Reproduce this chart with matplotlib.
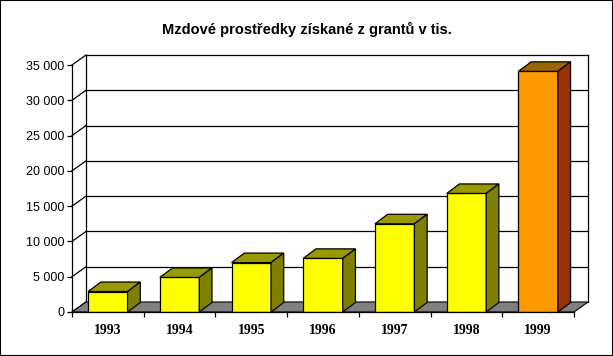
import matplotlib
matplotlib.use("Agg")
import matplotlib.pyplot as plt
from matplotlib.patches import Polygon, Rectangle
from matplotlib.ticker import FuncFormatter

years = ["1993", "1994", "1995", "1996", "1997", "1998", "1999"]
values = [2900, 4900, 7000, 7600, 12500, 16800, 34100]
front_colors = ["#FFFF00"] * 6 + ["#FF9900"]
top_colors = ["#999900"] * 6 + ["#996600"]
side_colors = ["#808000"] * 6 + ["#993300"]

title = "Mzdové prostředky získané z grantů v tis."
ymax = 35000
ystep = 5000

W, H = 613, 356
fig = plt.figure(figsize=(W / 100, H / 100), dpi=100)
# front plane: x 72..574 px, y 312..65 px
ax = fig.add_axes([72 / W, (H - 312) / H, (574 - 72) / W, (312 - 65) / H])
n = len(years)
ax.set_xlim(0, n)
ax.set_ylim(0, ymax)

px_x = n / (574 - 72)
px_y = ymax / (312 - 65)
wdx, wdy = 14 * px_x, 10 * px_y      # wall depth
bdx, bdy = 12.7 * px_x, 9.5 * px_y   # bar depth
bw = 0.55

# floor
ax.add_patch(Polygon([(0, 0), (n, 0), (n + wdx, wdy), (wdx, wdy)],
                     closed=True, facecolor="#808080", edgecolor="black",
                     lw=0.8, zorder=1, clip_on=False))

# back wall + side wall lines
for v in range(0, ymax + 1, ystep):
    ax.plot([0, wdx], [v, v + wdy], color="black", lw=0.9, zorder=0.5, clip_on=False)
    if v > 0:
        ax.plot([wdx, n + wdx], [v + wdy, v + wdy], color="black", lw=0.9,
                zorder=0.5, clip_on=False)
ax.plot([wdx, wdx], [wdy, ymax + wdy], color="black", lw=0.9, zorder=0.5, clip_on=False)
ax.plot([n + wdx, n + wdx], [wdy, ymax + wdy], color="black", lw=0.9, zorder=0.5, clip_on=False)

# bars
xs = [i + 0.5 for i in range(n)]
ax.bar(xs, values, width=bw, color=front_colors, edgecolor="black", lw=0.9, zorder=3)
for x, v, tc, sc in zip(xs, values, top_colors, side_colors):
    l, r = x - bw / 2, x + bw / 2
    ax.add_patch(Polygon([(l, v), (r, v), (r + bdx, v + bdy), (l + bdx, v + bdy)],
                         closed=True, facecolor=tc, edgecolor="black", lw=0.9,
                         zorder=3, clip_on=False))
    ax.add_patch(Polygon([(r, 0), (r + bdx, bdy), (r + bdx, v + bdy), (r, v)],
                         closed=True, facecolor=sc, edgecolor="black", lw=0.9,
                         zorder=3, clip_on=False))

# axes
ax.set_facecolor("none")
ax.spines["top"].set_visible(False)
ax.spines["right"].set_visible(False)
for s in ("left", "bottom"):
    ax.spines[s].set_linewidth(0.9)
    ax.spines[s].set_zorder(4)
ax.set_yticks(range(0, ymax + 1, ystep))
ax.yaxis.set_major_formatter(FuncFormatter(lambda v, p: f"{int(v):,}".replace(",", " ")))
ax.tick_params(axis="y", direction="out", length=3.6, width=0.9, pad=2,
               labelsize=9)
for t in ax.get_yticklabels():
    t.set_fontfamily("Liberation Sans")
ax.set_xticks(range(0, n + 1))
ax.set_xticklabels([])
ax.tick_params(axis="x", which="major", direction="out", length=3.6, width=0.9)
ax.set_xticks(xs, minor=True)
ax.set_xticklabels(years, minor=True, fontfamily="Liberation Serif",
                   fontweight="bold", fontsize=10)
ax.tick_params(axis="x", which="minor", length=0, pad=8.5)

fig.text(0.5, 1 - 29 / H, title, ha="center", va="center",
         fontfamily="Liberation Sans", fontweight="bold", fontsize=10.5)
fig.patches.append(Rectangle((0, 0), 1, 1, transform=fig.transFigure,
                             fill=False, edgecolor="black", lw=1.5))

fig.savefig("out.png", dpi=100)
